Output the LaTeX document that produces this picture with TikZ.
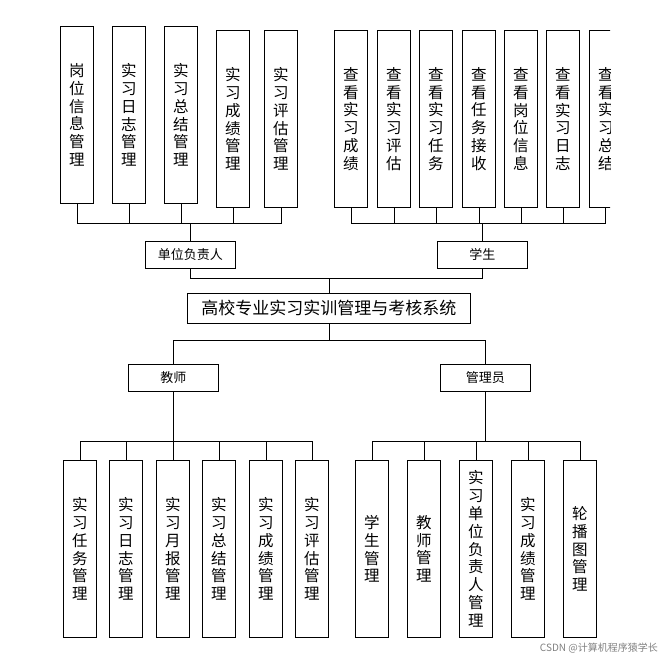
\documentclass[tikz,border=0pt]{standalone}
\usepackage{fontspec}
\setmainfont{Noto Sans CJK SC}
\begin{document}
\begin{tikzpicture}[x=1pt,y=-1pt,
  vbox/.style={draw,line width=0.8pt,minimum width=33pt,minimum height=177pt,anchor=north west,inner sep=0pt,align=center,font=\fontsize{15.5}{17.8}\selectfont},
  hbox/.style={draw,line width=0.8pt,minimum width=90pt,minimum height=27pt,anchor=north west,inner sep=0pt,font=\fontsize{13}{15}\selectfont},
  ln/.style={line width=0.8pt}]
\useasboundingbox (0,0) rectangle (663,662);
% main
\node[draw,line width=0.8pt,minimum width=283pt,minimum height=30pt,anchor=north west,inner sep=0pt,font=\fontsize{17}{19}\selectfont] (main) at (187,293) {高校专业实习实训管理与考核系统};
\node[hbox] (dw) at (145,241) {单位负责人};
\node[hbox] (xs) at (437,241) {学生};
\node[hbox] (js) at (128,364) {教师};
\node[hbox] (gl) at (440,364) {管理员};
% top-left boxes
\node[vbox] (a1) at (60,26) {岗\\位\\信\\息\\管\\理};
\node[vbox] (a2) at (112,26) {实\\习\\日\\志\\管\\理};
\node[vbox] (a3) at (164,26) {实\\习\\总\\结\\管\\理};
\node[vbox] (a4) at (216,30) {实\\习\\成\\绩\\管\\理};
\node[vbox] (a5) at (264,30) {实\\习\\评\\估\\管\\理};
% top-right boxes
\node[vbox] (b1) at (334,30) {查\\看\\实\\习\\成\\绩};
\node[vbox] (b2) at (377,30) {查\\看\\实\\习\\评\\估};
\node[vbox] (b3) at (419,30) {查\\看\\实\\习\\任\\务};
\node[vbox] (b4) at (462,30) {查\\看\\任\\务\\接\\收};
\node[vbox] (b5) at (504,30) {查\\看\\岗\\位\\信\\息};
\node[vbox] (b6) at (546,30) {查\\看\\实\\习\\日\\志};
\begin{scope}
\clip (580,0) rectangle (610,300);
\node[vbox] (b7) at (589,30) {查\\看\\实\\习\\总\\结};
\end{scope}
% bottom-left
\node[vbox] (c1) at (63,460) {实\\习\\任\\务\\管\\理};
\node[vbox] (c2) at (109,460) {实\\习\\日\\志\\管\\理};
\node[vbox] (c3) at (156,460) {实\\习\\月\\报\\管\\理};
\node[vbox] (c4) at (202,460) {实\\习\\总\\结\\管\\理};
\node[vbox] (c5) at (249,460) {实\\习\\成\\绩\\管\\理};
\node[vbox] (c6) at (295,460) {实\\习\\评\\估\\管\\理};
% bottom-right
\node[vbox] (d1) at (355,460) {学\\生\\管\\理};
\node[vbox] (d2) at (407,460) {教\\师\\管\\理};
\node[vbox] (d3) at (459,460) {实\\习\\单\\位\\负\\责\\人\\管\\理};
\node[vbox] (d4) at (511,460) {实\\习\\成\\绩\\管\\理};
\node[vbox] (d5) at (563,460) {轮\\播\\图\\管\\理};
% connectors
\foreach \n in {a1,a2,a3,a4,a5} \draw[ln] (\n.south) -- (\n.south |- 0,223) -- (dw.north |- 0,223);
\draw[line width=1.6pt] (dw.north) -- ++(0,-18);
\foreach \n in {b1,b2,b3,b4,b5,b6} \draw[ln] (\n.south) -- (\n.south |- 0,223) -- (xs.north |- 0,223);
\coordinate (b7s) at (605.5,207);
\draw[ln] (b7s) -- (605.5,223) -- (xs.north |- 0,223);
\draw[line width=1.6pt] (xs.north) -- ++(0,-18);
\draw[ln] (dw.south) -- ++(0,10) -| (main.north);
\draw[ln] (xs.south) -- ++(0,10) -| (main.north);
\draw[ln] (main.south) -- ++(0,17) -| (js.north);
\draw[ln] (main.south) -- ++(0,17) -| (gl.north);
\foreach \n in {c1,c2,c3,c4,c5,c6} \draw[ln] (\n.north) -- (\n.north |- 0,441) -- (js.south |- 0,441);
\draw[line width=1.2pt] (js.south) -- (js.south |- 0,441);
\foreach \n in {d1,d2,d3,d4,d5} \draw[ln] (\n.north) -- (\n.north |- 0,441) -- (gl.south |- 0,441);
\draw[line width=1.2pt] (gl.south) -- (gl.south |- 0,441);
\node[anchor=east,text=gray,font=\fontsize{10}{12}\selectfont,inner sep=0pt] (wm) at (658,648) {CSDN @计算机程序猿学长};
\end{tikzpicture}
\end{document}
